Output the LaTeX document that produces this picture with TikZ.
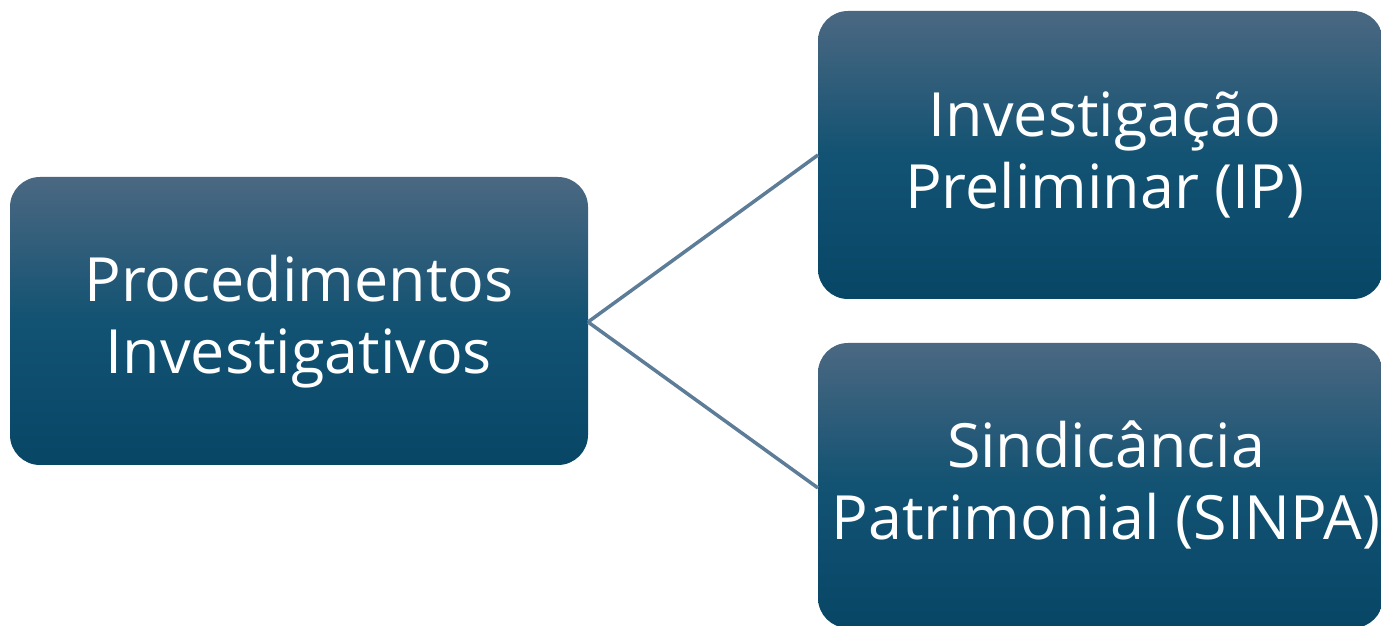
\documentclass[tikz,border=0pt]{standalone}
\usepackage{fontspec}
\setmainfont{Open Sans}
\definecolor{boxtop}{RGB}{75,104,130}
\definecolor{boxmid}{RGB}{18,82,114}
\definecolor{boxbot}{RGB}{8,70,102}
\definecolor{linkc}{RGB}{92,124,152}
\tikzset{
  pbox/.style={rounded corners=30pt, top color=boxtop, bottom color=boxbot, middle color=boxmid, draw=none},
  ptext/.style={text=white, font=\fontsize{61}{72}\selectfont, align=center},
  link/.style={draw=linkc, line width=3.5pt}
}
\begin{document}
\begin{tikzpicture}[x=1pt,y=1pt]
\useasboundingbox (0,0) rectangle (1381,626);
\begin{scope}
\clip (0,0) rectangle (1381,626);
\path[pbox] (10,161) rectangle (588,449);
\path[pbox] (818,327) rectangle (1383,615);
\path[pbox] (818,-2) rectangle (1383,283);
\node[ptext] (a) at (299,304) {Procedimentos\\Investigativos};
\node[ptext] (b) at (1105,471) {Investigação\\Preliminar (IP)};
\node[ptext] (c) at (1106,141) {Sindicância\\Patrimonial (SINPA)};
\end{scope}
\coordinate (l) at (588,304);
\coordinate (t) at (818,471);
\coordinate (u) at (818,138);
\draw[link] (l) -- (t);
\draw[link] (l) -- (u);
\end{tikzpicture}
\end{document}
